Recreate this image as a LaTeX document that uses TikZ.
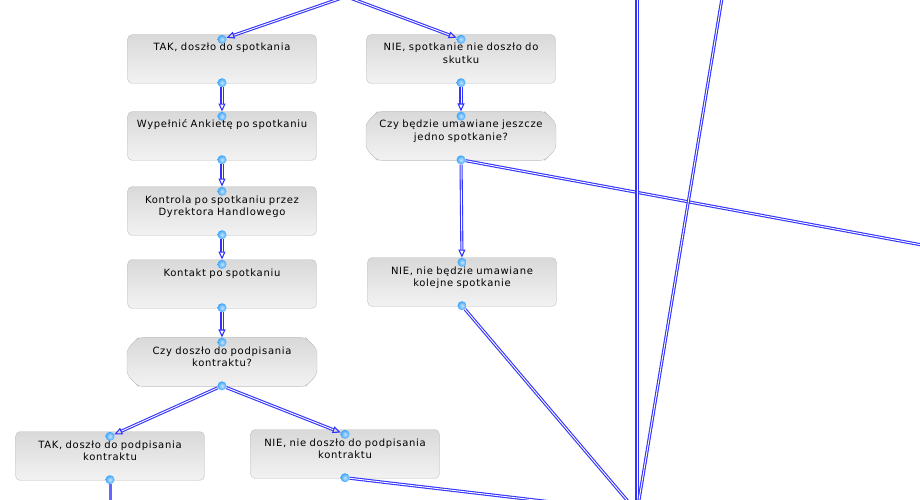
\documentclass[tikz,border=0pt]{standalone}
\usepackage{fontspec}
\setmainfont{DejaVu Sans}[LetterSpace=7]
\usetikzlibrary{arrows.meta, positioning, shapes.misc}
\definecolor{linkblue}{RGB}{51,51,255}
\definecolor{dotblue}{RGB}{60,165,250}
\definecolor{boxline}{RGB}{192,192,192}

\begin{document}
\begin{tikzpicture}[x=1pt,y=-1pt,node distance=75pt,
    box/.style={rectangle,rounded corners=5pt,draw=boxline,top color=black!15,bottom color=black!5,
      minimum width=189pt,text width=180pt,align=center,inner sep=0pt,
      text height=16.5pt,text depth=32.5pt,font=\fontsize{10}{12.5}\selectfont},
    ask/.style={box,chamfered rectangle,chamfered rectangle xsep=8pt,chamfered rectangle angle=45,
      text width=174pt,text height=13pt,text depth=29pt},
    dot/.style={circle,inner sep=0pt,minimum size=9pt,inner color=dotblue!30!white,outer color=dotblue},
    link/.style={draw=linkblue,line width=1.1pt,double=white,double distance=.9pt},
    arr/.style={-{Triangle[open,length=8pt,width=7pt]}},
    drop/.style={draw=linkblue!75,line width=3pt}]
  \useasboundingbox (0,0) rectangle (920,500);
  \clip (0,0) rectangle (920,500);
  % left column
  \node[box] (tak) at (222,59) {TAK, doszło do spotkania};
  \node[box] (ankieta) [below of = tak, yshift=-2pt] {Wypełnić Ankietę po spotkaniu};
  \node[box] (kontrola) [below of = ankieta] {Kontrola po spotkaniu przez\\Dyrektora Handlowego};
  \node[box] (kontakt) [below of = kontrola, yshift=2pt] {Kontakt po spotkaniu};
  \node[ask] (czypodp) [below of = kontakt, yshift=-3pt] {Czy doszło do podpisania\\kontraktu?};
  \node[box] (takpodp) at (110,456) {TAK, doszło do podpisania\\kontraktu};
  \node[box] (niepodp) at (345,454) {NIE, nie doszło do podpisania\\kontraktu};
  % right column
  \node[box] (nie) at (461,59) {NIE, spotkanie nie doszło do\\skutku};
  \node[ask] (czyumaw) [below of = nie, yshift=-2pt] {Czy będzie umawiane jeszcze\\jedno spotkanie?};
  \node[box] (nienie) at (462,282) {NIE, nie będzie umawiane\\kolejne spotkanie};
  % ends outside the page
  \coordinate (start) at (346,-3.5);
  \coordinate (top) at (637,-20);
  \coordinate (topright) at (725,-20);
  \coordinate (right) at (960,252);
  \coordinate (end) at (637,512);
  \coordinate (down) at (110,520);
  \foreach \b in {tak,ankieta,kontrola,kontakt,czypodp,takpodp,niepodp,nie,czyumaw,nienie}
    {
      \node[dot] (\b-in) at ([yshift=-5pt]\b.north) {};
      \node[dot] (\b-out) at ([yshift=1pt]\b.south) {};
    }
  \path
    (start) edge[link,arr] (tak-in)
            edge[link,arr] (nie-in)
    (tak-out) edge[link,arr] (ankieta-in)
    (ankieta-out) edge[link,arr] (kontrola-in)
    (kontrola-out) edge[link,arr] (kontakt-in)
    (kontakt-out) edge[link,arr] (czypodp-in)
    (czypodp-out) edge[link,arr] (takpodp-in)
                  edge[link,arr] (niepodp-in)
    (nie-out) edge[link,arr] (czyumaw-in)
    (czyumaw-out) edge[link,arr] (nienie-in)
                  edge[link] (right)
    (nienie-out) edge[link] (end)
    (niepodp-out) edge[link] (end)
    (top) edge[link] (end)
    (topright) edge[link] (end)
    ;
  \draw[drop] (takpodp-out) -- (down);
\end{tikzpicture}
\end{document}
